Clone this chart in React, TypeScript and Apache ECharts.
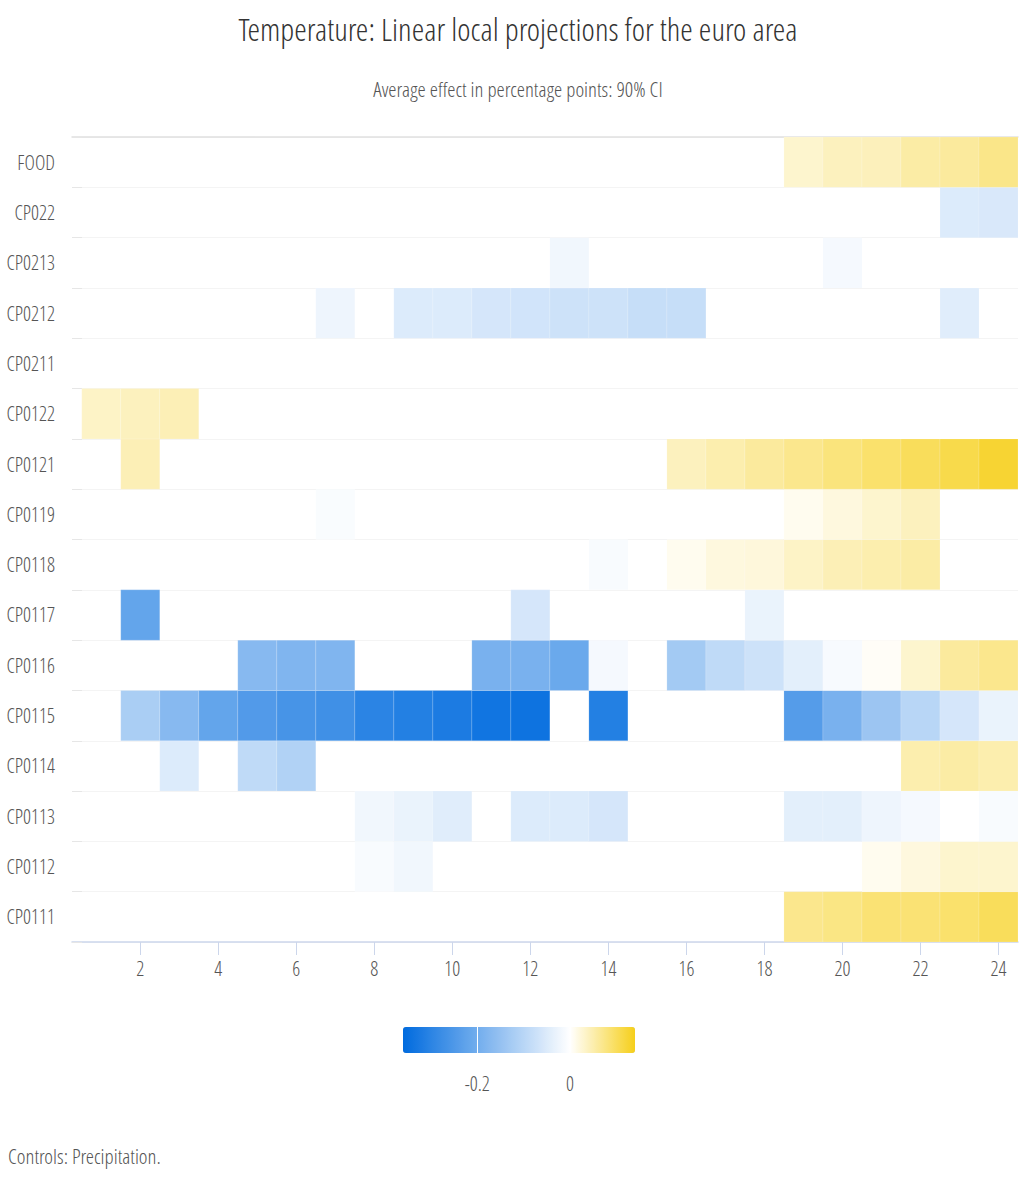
import React, { useEffect, useRef } from "react";
import * as echarts from "echarts";

const N = null;

// horizons (x categories)
const horizons = [1, 2, 3, 4, 5, 6, 7, 8, 9, 10, 11, 12, 13, 14, 15, 16, 17, 18, 19, 20, 21, 22, 23, 24];
const xTickLabels = [2, 4, 6, 8, 10, 12, 14, 16, 18, 20, 22, 24];

// y categories, bottom to top
const items = [
  "CP0111", "CP0112", "CP0113", "CP0114", "CP0115", "CP0116", "CP0117", "CP0118",
  "CP0119", "CP0121", "CP0122", "CP0211", "CP0212", "CP0213", "CP022", "FOOD",
];

// values by item, horizons 1..24
const cp0111 = [N, N, N, N, N, N, N, N, N, N, N, N, N, N, N, N, N, N, 0.07, 0.075, 0.085, 0.085, 0.09, 0.1];
const cp0112 = [N, N, N, N, N, N, N, -0.01, -0.02, N, N, N, N, N, N, N, N, N, N, N, 0.01, 0.02, 0.03, 0.03];
const cp0113 = [N, N, N, N, N, N, N, -0.02, -0.03, -0.045, N, -0.05, -0.05, -0.06, N, N, N, N, -0.04, -0.04, -0.025, -0.015, 0.0, -0.01];
const cp0114 = [N, N, -0.05, N, -0.09, -0.11, N, N, N, N, N, N, N, N, N, N, N, N, N, N, N, 0.05, 0.055, 0.05];
const cp0115 = [N, -0.12, -0.17, -0.22, -0.245, -0.26, -0.27, -0.3, -0.31, -0.32, -0.335, -0.34, N, -0.31, N, N, N, N, -0.24, -0.19, -0.14, -0.1, -0.06, -0.03];
const cp0116 = [N, N, N, N, -0.17, -0.18, -0.18, N, N, N, -0.19, -0.19, -0.21, -0.015, N, -0.13, -0.09, -0.07, -0.04, -0.012, 0.005, 0.03, 0.06, 0.07];
const cp0117 = [N, -0.22, N, N, N, N, N, N, N, N, N, -0.06, N, N, N, N, N, -0.03, N, N, N, N, N, N];
const cp0118 = [N, N, N, N, N, N, N, N, N, N, N, N, N, -0.01, N, 0.01, 0.02, 0.022, 0.035, 0.045, 0.05, 0.055, N, N];
const cp0119 = [N, N, N, N, N, N, -0.008, N, N, N, N, N, N, N, N, N, N, N, 0.01, 0.02, 0.03, 0.04, N, N];
const cp0121 = [N, 0.045, N, N, N, N, N, N, N, N, N, N, N, N, N, 0.04, 0.05, 0.06, 0.07, 0.08, 0.09, 0.1, 0.11, 0.125];
const cp0122 = [0.035, 0.04, 0.045, N, N, N, N, N, N, N, N, N, N, N, N, N, N, N, N, N, N, N, N, N];
const cp0211 = [N, N, N, N, N, N, N, N, N, N, N, N, N, N, N, N, N, N, N, N, N, N, N, N];
const cp0212 = [N, N, N, N, N, N, -0.025, N, -0.05, -0.05, -0.06, -0.065, -0.07, -0.07, -0.08, -0.08, N, N, N, N, N, N, -0.045, N];
const cp0213 = [N, N, N, N, N, N, N, N, N, N, N, N, -0.02, N, N, N, N, N, N, -0.015, N, N, N, N];
const cp022 = [N, N, N, N, N, N, N, N, N, N, N, N, N, N, N, N, N, N, N, N, N, N, -0.05, -0.055];
const food = [N, N, N, N, N, N, N, N, N, N, N, N, N, N, N, N, N, N, 0.03, 0.04, 0.042, 0.055, 0.06, 0.072];

const rows = [cp0111, cp0112, cp0113, cp0114, cp0115, cp0116, cp0117, cp0118, cp0119, cp0121, cp0122, cp0211, cp0212, cp0213, cp022, food];

// colour axis
const colorMin = -0.36;
const colorMax = 0.14;
const colorTickLabels = [-0.2, 0];

const FONT = "'Open Sans Condensed Light', 'Open Sans Condensed', 'Liberation Sans Narrow', sans-serif";
const WEIGHT = 300;
const LABEL = "#555555";

function mix(a: number[], b: number[], t: number) {
  const c = a.map((v, i) => Math.round(v + (b[i] - v) * t));
  return `rgb(${c[0]},${c[1]},${c[2]})`;
}

function buildStops() {
  const blue = [0, 107, 222];
  const white = [255, 255, 255];
  const yellow = [246, 207, 26];
  const out: string[] = [];
  const steps = 25;
  for (let i = 0; i <= steps; i++) {
    const v = colorMin + ((colorMax - colorMin) * i) / steps;
    if (v <= 0) out.push(mix(white, blue, v / colorMin));
    else out.push(mix(white, yellow, v / colorMax));
  }
  return out;
}

export default function App() {
  const ref = useRef<HTMLDivElement>(null);
  useEffect(() => {
    if (!ref.current) return;
    const chart = echarts.init(ref.current, undefined, { renderer: "svg" });
    const data: any[] = [];
    rows.forEach((row, yi) => {
      row.forEach((v, xi) => {
        if (v !== null) data.push([horizons[xi], yi, v]);
      });
    });
    chart.setOption({
      animation: false,
      backgroundColor: "#ffffff",
      graphic: [
        {
          type: "text",
          x: 518,
          y: 28,
          style: {
            text: "Temperature: Linear local projections for the euro area",
            align: "center",
            verticalAlign: "middle",
            fontSize: 32,
            fontWeight: WEIGHT,
            fontFamily: FONT,
            fill: "#333333",
          },
        },
        {
          type: "text",
          x: 518,
          y: 89,
          style: {
            text: "Average effect in percentage points: 90% CI",
            align: "center",
            verticalAlign: "middle",
            fontSize: 21,
            fontWeight: WEIGHT,
            fontFamily: FONT,
            fill: "#555555",
          },
        },
        {
          type: "text",
          x: 8,
          y: 1156,
          style: {
            text: "Controls: Precipitation.",
            align: "left",
            verticalAlign: "middle",
            fontSize: 21,
            fontWeight: WEIGHT,
            fontFamily: FONT,
            fill: "#555555",
          },
        },
      ],
      grid: [
        { left: 72, right: 2, top: 137, height: 805 },
        { left: 403, width: 232, top: 1027, height: 26 },
      ],
      xAxis: [
        {
          type: "value",
          gridIndex: 0,
          min: 0.25,
          max: 24.5,
          position: "bottom",
          axisLine: { show: true, lineStyle: { color: "#ccd6eb", width: 1.5 } },
          axisTick: { show: true, customValues: xTickLabels, length: 13, lineStyle: { color: "#ccd6eb" } },
          axisLabel: {
            customValues: xTickLabels,
            color: LABEL,
            fontSize: 20,
            fontWeight: WEIGHT,
            fontFamily: FONT,
            margin: 16,
          },
          splitLine: { show: false },
        },
        {
          type: "value",
          gridIndex: 0,
          min: 0.25,
          max: 24.5,
          position: "top",
          axisLine: { show: true, lineStyle: { color: "#e0e0e0", width: 1.5 } },
          axisTick: { show: false },
          axisLabel: { show: false },
          splitLine: { show: false },
        },
        {
          type: "value",
          gridIndex: 1,
          min: colorMin,
          max: colorMax,
          position: "bottom",
          z: 10,
          axisLine: { show: false },
          axisTick: {
            show: true,
            inside: true,
            length: 26,
            customValues: colorTickLabels,
            lineStyle: { color: "#ffffff", width: 1 },
          },
          axisLabel: {
            customValues: colorTickLabels,
            color: LABEL,
            fontSize: 20,
            fontWeight: WEIGHT,
            fontFamily: FONT,
            margin: 20,
          },
          splitLine: { show: false },
        },
      ],
      yAxis: [
        {
          type: "category",
          gridIndex: 0,
          data: items,
          boundaryGap: true,
          axisLine: { show: false },
          axisTick: { show: true, inside: true, length: 10, lineStyle: { color: "#e6e6e6" } },
          axisLabel: { color: LABEL, fontSize: 20, fontWeight: WEIGHT, fontFamily: FONT, margin: 17 },
          splitLine: { show: true, lineStyle: { color: "#f4f4f4" } },
        },
        { type: "value", gridIndex: 1, show: false },
      ],
      visualMap: {
        type: "continuous",
        min: colorMin,
        max: colorMax,
        orient: "horizontal",
        left: 403,
        top: 1027,
        itemWidth: 26,
        itemHeight: 232,
        padding: 0,
        calculable: false,
        text: null,
        seriesIndex: 0,
        inRange: { color: buildStops() },
      },
      series: [
        {
          type: "custom",
          xAxisIndex: 0,
          yAxisIndex: 0,
          data,
          encode: { x: 0, y: 1 },
          renderItem: (params: any, api: any) => {
            const x = api.value(0);
            const y = api.value(1);
            const p0 = api.coord([x - 0.5, y]);
            const p1 = api.coord([x + 0.5, y]);
            const h = api.size([0, 1])[1];
            return {
              type: "rect",
              shape: { x: p0[0], y: p0[1] - h / 2, width: p1[0] - p0[0], height: h },
              style: { fill: api.visual("color"), stroke: "rgba(255,255,255,0.3)", lineWidth: 0.5 },
            };
          },
        },
      ],
    });
    return () => chart.dispose();
  }, []);
  return (
    <div
      ref={ref}
      style={{ position: "absolute", left: 0, top: 0, width: "1020px", height: "1177px" }}
    />
  );
}
